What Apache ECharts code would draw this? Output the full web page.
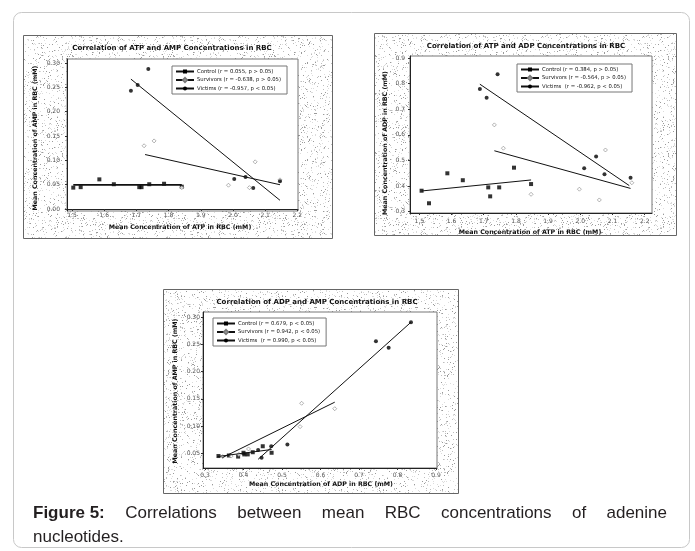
<!DOCTYPE html>
<html><head><meta charset="utf-8">
<script src="https://cdn.jsdelivr.net/npm/echarts@6/dist/echarts.min.js"></script>
<style>html,body{margin:0;padding:0;background:#fff}#c{width:695px;height:551px}</style>
</head><body><div id="c"></div>
<script>
// ---------- Panel 1: ATP (x) vs AMP (y) ----------
const p1Title = 'Correlation of ATP and AMP Concentrations in RBC';
const p1XName = 'Mean Concentration of ATP in RBC (mM)';
const p1YName = 'Mean Concentration of AMP in RBC (mM)';
const p1Legend = ['Control (r = 0.055, p > 0.05)', 'Survivors (r = -0.638, p > 0.05)', 'Victims (r = -0.957, p < 0.05)'];
const p1XTicks = [1.5, 1.6, 1.7, 1.8, 1.9, 2.0, 2.1, 2.2];
const p1YTicks = [0.00, 0.05, 0.10, 0.15, 0.20, 0.25, 0.30];
const p1Control = [[1.504,0.044],[1.527,0.045],[1.585,0.061],[1.630,0.051],[1.709,0.045],[1.716,0.045],[1.740,0.051],[1.786,0.052],[1.841,0.046]];
const p1Survivors = [[1.724,0.130],[1.755,0.140],[1.841,0.044],[1.986,0.049],[2.051,0.044],[2.069,0.097],[2.146,0.060]];
const p1Victims = [[1.683,0.243],[1.704,0.255],[1.737,0.288],[2.004,0.062],[2.039,0.066],[2.063,0.043],[2.146,0.057]];
const p1ControlFit = [[1.504,0.0495],[1.841,0.0495]];
const p1SurvivorsFit = [[1.727,0.112],[2.146,0.050]];
const p1VictimsFit = [[1.683,0.267],[2.146,0.018]];

// ---------- Panel 2: ATP (x) vs ADP (y) ----------
const p2Title = 'Correlation of ATP and ADP Concentrations in RBC';
const p2XName = 'Mean Concentration of ATP in RBC (mM)';
const p2YName = 'Mean Concentration of ADP in RBC (mM)';
const p2Legend = ['Control (r = 0.384, p > 0.05)', 'Survivors (r = -0.564, p > 0.05)', 'Victims  (r = -0.962, p < 0.05)'];
const p2XTicks = [1.5, 1.6, 1.7, 1.8, 1.9, 2.0, 2.1, 2.2];
const p2YTicks = [0.3, 0.4, 0.5, 0.6, 0.7, 0.8, 0.9];
const p2Control = [[1.507,0.382],[1.530,0.333],[1.587,0.450],[1.635,0.423],[1.714,0.395],[1.720,0.360],[1.748,0.395],[1.794,0.472],[1.847,0.408]];
const p2Survivors = [[1.733,0.639],[1.761,0.548],[1.847,0.368],[1.997,0.388],[2.059,0.346],[2.078,0.541],[2.160,0.413]];
const p2Victims = [[1.688,0.779],[1.709,0.745],[1.743,0.837],[2.012,0.470],[2.049,0.516],[2.075,0.446],[2.156,0.433]];
const p2ControlFit = [[1.507,0.381],[1.847,0.424]];
const p2SurvivorsFit = [[1.733,0.538],[2.156,0.391]];
const p2VictimsFit = [[1.688,0.798],[2.152,0.402]];

// ---------- Panel 3: ADP (x) vs AMP (y) ----------
const p3Title = 'Correlation of ADP and AMP Concentrations in RBC';
const p3XName = 'Mean Concentration of ADP in RBC (mM)';
const p3YName = 'Mean Concentration of AMP in RBC (mM)';
const p3Legend = ['Control (r = 0.679, p < 0.05)', 'Survivors (r = 0.942, p < 0.05)', 'Victims  (r = 0.990, p < 0.05)'];
const p3XTicks = [0.3, 0.4, 0.5, 0.6, 0.7, 0.8, 0.9];
const p3YTicks = [0.05, 0.10, 0.15, 0.20, 0.25, 0.30];
const p3Control = [[0.335,0.045],[0.362,0.046],[0.386,0.044],[0.400,0.051],[0.402,0.048],[0.411,0.048],[0.424,0.052],[0.450,0.063],[0.473,0.051]];
const p3Survivors = [[0.346,0.044],[0.368,0.045],[0.388,0.048],[0.413,0.058],[0.547,0.099],[0.551,0.142],[0.637,0.132]];
const p3Victims = [[0.438,0.056],[0.447,0.042],[0.472,0.063],[0.514,0.066],[0.744,0.256],[0.777,0.244],[0.835,0.291]];
const p3ControlFit = [[0.332,0.044],[0.473,0.057]];
const p3SurvivorsFit = [[0.345,0.042],[0.637,0.144]];
const p3VictimsFit = [[0.438,0.039],[0.835,0.291]];

const captionBold = 'Figure 5:';
const captionLine1 = ['Correlations','between','mean','RBC','concentrations','of','adenine'];
const captionLine2 = 'nucleotides.';

// ---------- layout / style ----------
const FONT = 'DejaVu Sans';
const panels = [
  {title:p1Title, xName:p1XName, yName:p1YName, legend:p1Legend, xTicks:p1XTicks, yTicks:p1YTicks, xDec:1, yDec:2,
   pts:[p1Control,p1Survivors,p1Victims], fits:[p1ControlFit,p1SurvivorsFit,p1VictimsFit],
   grid:{left:67, top:59, width:231, height:152}, x:[1.4845,2.202], y:[-0.004,0.3083],
   frame:[23,35,309,203], titleXY:[172,48], xNameXY:[180,227], yNameXY:[35,138],
   legendPos:{left:172, top:66}, xLabM:1, yLabM:7, ctrlW:1.8},
  {title:p2Title, xName:p2XName, yName:p2YName, legend:p2Legend, xTicks:p2XTicks, yTicks:p2YTicks, xDec:1, yDec:1,
   pts:[p2Control,p2Survivors,p2Victims], fits:[p2ControlFit,p2SurvivorsFit,p2VictimsFit],
   grid:{left:410, top:56, width:242, height:157}, x:[1.471,2.2226], y:[0.295,0.908],
   frame:[374,33,302,202], titleXY:[526,46], xNameXY:[530,232], yNameXY:[385,143],
   legendPos:{left:517, top:64}, xLabM:5, yLabM:5, ctrlW:1},
  {title:p3Title, xName:p3XName, yName:p3YName, legend:p3Legend, xTicks:p3XTicks, yTicks:p3YTicks, xDec:1, yDec:2,
   pts:[p3Control,p3Survivors,p3Victims], fits:[p3ControlFit,p3SurvivorsFit,p3VictimsFit],
   grid:{left:203, top:312, width:234, height:156}, x:[0.2948,0.9026], y:[0.023,0.3098],
   frame:[163,289,295,204], titleXY:[317,302], xNameXY:[321,484], yNameXY:[175,391],
   legendPos:{left:213, top:318}, xLabM:4, yLabM:3, ctrlW:1}
];
const symbols = ['rect','diamond','circle'];
const symStyles = [
  {color:'#000', borderWidth:0},
  {color:'#fff', borderColor:'#777', borderWidth:0.7},
  {color:'#000', borderWidth:0}
];
const symSizes = [4,4,4];

function speckle(){
  const W=101,H=97;
  const c=document.createElement('canvas'); c.width=W; c.height=H;
  const g=c.getContext('2d'); g.fillStyle='#fff'; g.fillRect(0,0,W,H);
  let s=987654321;
  for(let y=0;y<H;y++) for(let x=0;x<W;x++){
    s=(Math.imul(s,1103515245)+12345)>>>0;
    const r=(s>>>8)/16777216;
    if(r<0.10){ g.fillStyle = r<0.025 ? '#9a9a9a' : (r<0.055 ? '#bdbdbd' : '#dcdcdc'); g.fillRect(x,y,1,1); }
  }
  return c;
}
const tex = speckle();

const grids=[], xAxes=[], yAxes=[], series=[], legends=[], graphics=[];
graphics.push({type:'rect', z:-100, shape:{x:13.5,y:12.5,width:676,height:535,r:8}, style:{fill:'#fff',stroke:'#c8c8c8',lineWidth:1}});
panels.forEach((p,i)=>{
  grids.push(Object.assign({show:true, backgroundColor:'#fff', borderColor:'#777', borderWidth:1, containLabel:false}, p.grid));
  const fx = d => v => (+v).toFixed(d);
  xAxes.push({type:'value', gridIndex:i, min:p.x[0], max:p.x[1],
    axisLine:{show:true, lineStyle:{color:'#222', width:1}},
    axisTick:{show:true, length:2, customValues:p.xTicks, lineStyle:{color:'#333'}},
    axisLabel:{customValues:p.xTicks, formatter:fx(p.xDec), fontFamily:FONT, fontSize:6, color:'#555', margin:p.xLabM},
    splitLine:{show:false}});
  yAxes.push({type:'value', gridIndex:i, min:p.y[0], max:p.y[1],
    axisLine:{show:true, lineStyle:{color:'#222', width:1}},
    axisTick:{show:true, length:2, customValues:p.yTicks, lineStyle:{color:'#333'}},
    axisLabel:{customValues:p.yTicks, formatter:fx(p.yDec), fontFamily:FONT, fontSize:6, color:'#555', margin:p.yLabM},
    splitLine:{show:false}});
  for(let k=0;k<3;k++){
    series.push({type:'line', name:p.legend[k], xAxisIndex:i, yAxisIndex:i, data:p.fits[k],
      symbol:symbols[k], symbolSize:symSizes[k], showSymbol:false, silent:true, animation:false,
      itemStyle:Object.assign({}, symStyles[k]), lineStyle:{color:'#111', width:(k===0?p.ctrlW:1)}});
    series.push({type:'scatter', name:p.legend[k], xAxisIndex:i, yAxisIndex:i, data:p.pts[k],
      symbol:symbols[k], symbolSize:symSizes[k], silent:true, animation:false,
      itemStyle:Object.assign({}, symStyles[k])});
  }
  legends.push({data:p.legend, left:p.legendPos.left, top:p.legendPos.top, orient:'vertical', selectedMode:false,
    itemWidth:18, itemHeight:5, itemGap:3, padding:[3,6,3,3], borderColor:'#777', borderWidth:1, backgroundColor:'#fff',
    textStyle:{fontFamily:FONT, fontSize:5.3, color:'#111', padding:[0,0,0,-2]}});
  graphics.push({type:'rect', z:-50, shape:{x:p.frame[0]+0.5,y:p.frame[1]+0.5,width:p.frame[2],height:p.frame[3]},
    style:{fill:{image:tex, repeat:'repeat'}, stroke:'#666', lineWidth:1}});
  graphics.push({type:'text', z:10, x:p.titleXY[0], y:p.titleXY[1], style:{text:p.title, font:'bold 7px "'+FONT+'"', fill:'#111', align:'center', verticalAlign:'middle'}});
  graphics.push({type:'text', z:10, x:p.xNameXY[0], y:p.xNameXY[1], style:{text:p.xName, font:'bold 6.3px "'+FONT+'"', fill:'#111', align:'center', verticalAlign:'middle'}});
  graphics.push({type:'text', z:10, x:p.yNameXY[0], y:p.yNameXY[1], rotation:Math.PI/2, style:{text:p.yName, font:'bold 6.3px "'+FONT+'"', fill:'#111', align:'center', verticalAlign:'middle'}});
});

// caption (justified first line)
const capFont = '17px "Liberation Sans"', capBoldFont = 'bold 17px "Liberation Sans"';
const mc = document.createElement('canvas').getContext('2d');
mc.font = capBoldFont; const wBold = mc.measureText(captionBold).width;
mc.font = capFont;
const wWords = captionLine1.map(w=>mc.measureText(w).width);
const L=33, R=667;
const gap = (R - L - wBold - wWords.reduce((a,b)=>a+b,0)) / captionLine1.length;
const cy1 = 513, cy2 = 537;
graphics.push({type:'text', x:L, y:cy1, style:{text:captionBold, font:capBoldFont, fill:'#231f20', verticalAlign:'middle'}});
let cx = L + wBold;
captionLine1.forEach((w,j)=>{ cx += gap; graphics.push({type:'text', x:cx, y:cy1, style:{text:w, font:capFont, fill:'#231f20', verticalAlign:'middle'}}); cx += wWords[j]; });
graphics.push({type:'text', x:L, y:cy2, style:{text:captionLine2, font:capFont, fill:'#231f20', verticalAlign:'middle'}});

const chart = echarts.init(document.getElementById('c'), null, {renderer:'canvas'});
chart.setOption({animation:false, backgroundColor:'#fff', grid:grids, xAxis:xAxes, yAxis:yAxes, series, legend:legends, graphic:{elements:graphics}});
</script></body></html>
